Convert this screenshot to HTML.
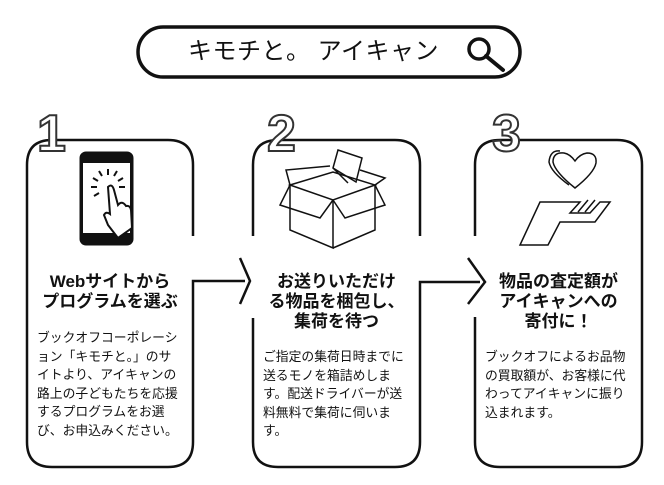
<!DOCTYPE html>
<html><head><meta charset="utf-8"><style>
body{margin:0;background:#fff;width:664px;height:485px;overflow:hidden;position:relative;font-family:"Liberation Sans","Noto Sans CJK JP",sans-serif;color:#111}
.t{position:absolute;white-space:nowrap}
.h{font-weight:bold;font-size:17px;line-height:20px;text-align:center}
.b{font-size:12.8px;line-height:18.5px}
</style></head><body>
<svg width="664" height="485" style="position:absolute;left:0;top:0" fill="none" stroke="#111">
<rect x="138" y="27" width="382" height="50" rx="25" stroke-width="3.5"/>
<circle cx="479" cy="49" r="10" stroke-width="3.5"/>
<line x1="486" y1="56" x2="503" y2="70" stroke-width="4" stroke-linecap="round"/>
<g stroke-width="2.5">
<path d="M193 236 V165 Q193 140 168 140 H52 Q27 140 27 165 V442 Q27 467 52 467 H168 Q193 467 193 442 V281 H245"/>
<path d="M240 258 L250 281 L240 304"/>
<path d="M253 236 V165 Q253 140 278 140 H395 Q420 140 420 165 V236"/>
<path d="M253 318 V442 Q253 467 278 467 H395 Q420 467 420 442 V282 H480"/>
<path d="M468 258 L485 282 L468 304"/>
<path d="M475 236 V165 Q475 140 500 140 H617 Q642 140 642 165 V442 Q642 467 617 467 H500 Q475 467 475 442 V317"/>
</g>
<rect x="80" y="152" width="53" height="93" rx="6" fill="#111"/>
<rect x="83" y="163" width="47" height="70" fill="#fff" stroke="none"/>
<g stroke-width="2"><path d="M108 175 v-6 M114 176 l3 -5 M102 176 l-3 -5 M118 181 l5 -3 M98 181 l-5 -3 M119 187 h6 M97 187 h-6 M99 193 l-5 3"/>
<path d="M108 187 Q112 183 114 190 L118 205 Q122 200 126 206 Q130 205 131 210 L132 228 L118 238 L108 225 L104 215 Q106 211 110 214 Z" fill="#fff"/></g>
<g stroke-width="1.5">
<path d="M290 185 L333 172 L375 185 L333 200 Z"/>
<path d="M290 185 V230 L333 248 V200 M375 185 V230 L333 248"/>
<path d="M290 185 L280 205 L320 218 L333 200 M375 185 L385 205 L345 218 L333 200"/>
<path d="M290 185 L286 170 L330 166 M375 185 L385 178 L360 170"/>
<path d="M333 168 L338 150 L362 158 L356 182 Z M333 168 L348 183"/>
</g>
<g stroke-width="1.5">
<path d="M575 188 Q555 172 553 162 Q553 152 564 153 Q570 154 575 161 Q580 154 587 153 Q597 153 596 163 Q594 173 575 188 Z"/>
<path d="M569 185 Q551 172 549 162 Q550 150 560 151"/>
<path d="M540 202 H580 L570 213 H590 L600 202 H610 L595 222 H560 L548 245 H520 Z"/>
<path d="M588 200 L578 212 M595 200 L585 212"/>
</g>
</svg>
<div class="t" style="left:188px;top:34px;font-size:24px;line-height:36px;letter-spacing:0.5px">キモチと。 アイキャン</div>
<div class="t" style="left:37px;top:106px;font-size:52px;font-weight:bold;color:#fff;-webkit-text-stroke:2px #333;line-height:56px">1</div>
<div class="t" style="left:267px;top:106px;font-size:52px;font-weight:bold;color:#fff;-webkit-text-stroke:2px #333;line-height:56px">2</div>
<div class="t" style="left:492px;top:106px;font-size:52px;font-weight:bold;color:#fff;-webkit-text-stroke:2px #333;line-height:56px">3</div>

<div class="t h" style="left:27px;width:166px;top:272px">Webサイトから<br>プログラムを選ぶ</div>
<div class="t b" style="left:37px;top:329px">ブックオフコーポレーシ<br>ョン「キモチと。」のサ<br>イトより、アイキャンの<br>路上の子どもたちを応援<br>するプログラムをお選<br>び、お申込みください。</div>

<div class="t h" style="left:253px;width:167px;top:272px">お送りいただけ<br>る物品を梱包し、<br>集荷を待つ</div>
<div class="t b" style="left:263px;top:348px">ご指定の集荷日時までに<br>送るモノを箱詰めしま<br>す。配送ドライバーが送<br>料無料で集荷に伺いま<br>す。</div>

<div class="t h" style="left:475px;width:167px;top:272px">物品の査定額が<br>アイキャンへの<br>寄付に！</div>
<div class="t b" style="left:485px;top:348px">ブックオフによるお品物<br>の買取額が、お客様に代<br>わってアイキャンに振り<br>込まれます。</div>
</body></html>
